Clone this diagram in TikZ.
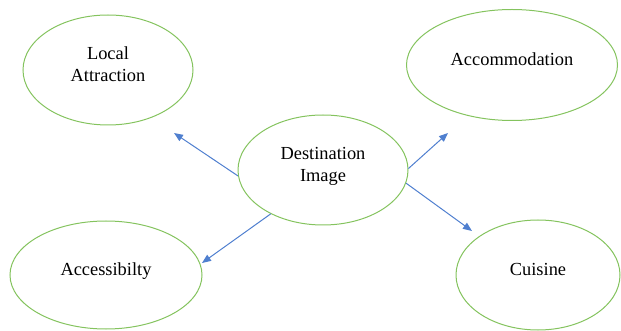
\documentclass[tikz,border=0pt]{standalone}
\usepackage{fontspec}
\setmainfont{Liberation Serif}
\usetikzlibrary{positioning, arrows.meta, shapes.geometric}

\definecolor{ovalgreen}{HTML}{84C35E}
\definecolor{arrowblue}{HTML}{4F7FCF}

\begin{document}
\begin{tikzpicture}[
        x=0.5pt, y=-0.5pt,
        oval/.style={ellipse, draw=ovalgreen, line width=0.5pt, inner sep=0pt,
            align=center, text depth=6pt, font=\fontsize{9.2}{11}\selectfont},
        arrow/.style={draw=arrowblue, line width=0.5pt, -{Triangle[length=4.5pt, width=3.6pt]}}
    ]

        \useasboundingbox (0,0) rectangle (621,331);

        \node[oval, minimum width=85pt, minimum height=55pt] (dest) at (323,170) {Destination\\Image};
        \node[oval, minimum width=85pt, minimum height=55pt] (local) at (108,70) {Local\\Attraction};
        \node[oval, minimum width=105.5pt, minimum height=55.5pt] (accom) at (512,65) {Accommodation};
        \node[oval, minimum width=96pt, minimum height=54pt] (access) at (106,275) {Accessibilty};
        \node[oval, minimum width=82pt, minimum height=55pt] (cuisine) at (538,275) {Cuisine};

        % arrow heads stop short of the ovals
        \coordinate (toLocal) at (174,133);
        \coordinate (toAccom) at (448,133);
        \coordinate (toAccess) at (202,263);
        \coordinate (toCuisine) at (472,231);

        \draw[arrow] (dest.184) -- (toLocal);
        \draw[arrow] (dest.1) -- (toAccom);
        \draw[arrow] (dest.220) -- (toAccess);
        \draw[arrow] (dest.351) -- (toCuisine);

    \end{tikzpicture}
\end{document}
